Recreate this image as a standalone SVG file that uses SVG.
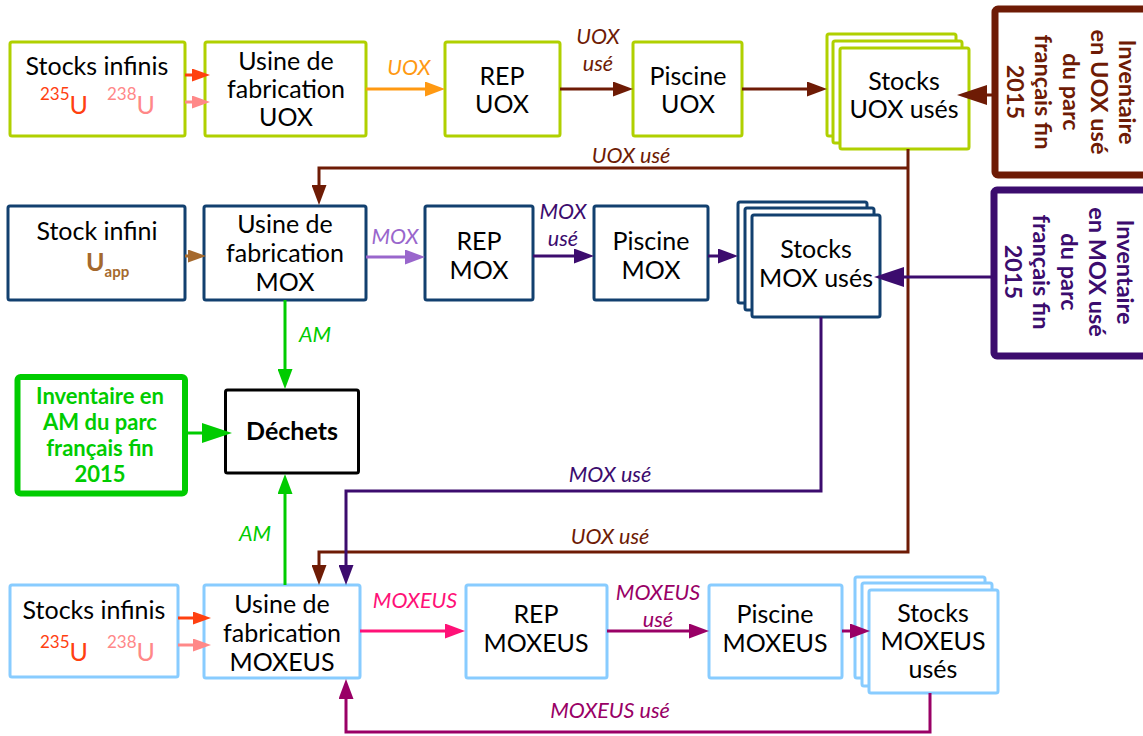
<svg xmlns="http://www.w3.org/2000/svg" width="1143" height="736" viewBox="0 0 1143 736">
<style>
text{font-family:Lato,"Liberation Sans",sans-serif;}
.t{font-size:25px;fill:#000;text-anchor:middle;dominant-baseline:central;}
.lbl{font-size:21.5px;font-style:italic;text-anchor:middle;dominant-baseline:central;}
.g{fill:#fff;stroke:#B0D000;stroke-width:3;}
.b{fill:#fff;stroke:#12406F;stroke-width:3;}
.lb{fill:#fff;stroke:#88CCFF;stroke-width:3;}
.c{fill:none;stroke-width:3;}
.inv{font-size:23.5px;font-weight:bold;text-anchor:middle;dominant-baseline:central;}
.inva{font-size:22px;font-weight:bold;text-anchor:middle;dominant-baseline:central;}
</style>
<defs>
<marker id="m-red" markerUnits="userSpaceOnUse" markerWidth="18" markerHeight="13" refX="10" refY="6.5" orient="auto"><path d="M0,0 L18,6.5 L0,13 z" fill="#FF4010"/></marker>
<marker id="m-pink" markerUnits="userSpaceOnUse" markerWidth="18" markerHeight="13" refX="10" refY="6.5" orient="auto"><path d="M0,0 L18,6.5 L0,13 z" fill="#FF8888"/></marker>
<marker id="m-tan" markerUnits="userSpaceOnUse" markerWidth="18" markerHeight="13" refX="10" refY="6.5" orient="auto"><path d="M0,0 L18,6.5 L0,13 z" fill="#A5692D"/></marker>
<marker id="m-orange" markerUnits="userSpaceOnUse" markerWidth="20" markerHeight="15" refX="12" refY="7.5" orient="auto"><path d="M0,0 L20,7.5 L0,15 z" fill="#FF9912"/></marker>
<marker id="m-brown" markerUnits="userSpaceOnUse" markerWidth="20" markerHeight="15" refX="12" refY="7.5" orient="auto"><path d="M0,0 L20,7.5 L0,15 z" fill="#6E1B05"/></marker>
<marker id="m-lav" markerUnits="userSpaceOnUse" markerWidth="20" markerHeight="15" refX="12" refY="7.5" orient="auto"><path d="M0,0 L20,7.5 L0,15 z" fill="#9966CC"/></marker>
<marker id="m-purple" markerUnits="userSpaceOnUse" markerWidth="20" markerHeight="15" refX="12" refY="7.5" orient="auto"><path d="M0,0 L20,7.5 L0,15 z" fill="#3C0C6E"/></marker>
<marker id="m-green" markerUnits="userSpaceOnUse" markerWidth="20" markerHeight="15" refX="12" refY="7.5" orient="auto"><path d="M0,0 L20,7.5 L0,15 z" fill="#00CC00"/></marker>
<marker id="m-magenta" markerUnits="userSpaceOnUse" markerWidth="20" markerHeight="15" refX="12" refY="7.5" orient="auto"><path d="M0,0 L20,7.5 L0,15 z" fill="#FF1177"/></marker>
<marker id="m-mox" markerUnits="userSpaceOnUse" markerWidth="20" markerHeight="15" refX="12" refY="7.5" orient="auto"><path d="M0,0 L20,7.5 L0,15 z" fill="#990066"/></marker>
<marker id="t-brown" markerUnits="userSpaceOnUse" markerWidth="30" markerHeight="20" refX="15" refY="10" orient="auto"><path d="M0,0 L30,10 L0,20 z" fill="#6E1B05"/></marker>
<marker id="t-purple" markerUnits="userSpaceOnUse" markerWidth="30" markerHeight="20" refX="15" refY="10" orient="auto"><path d="M0,0 L30,10 L0,20 z" fill="#3C0C6E"/></marker>
<marker id="t-green" markerUnits="userSpaceOnUse" markerWidth="30" markerHeight="20" refX="15" refY="10" orient="auto"><path d="M0,0 L30,10 L0,20 z" fill="#00CC00"/></marker>
</defs>
<rect width="1143" height="736" fill="#fff"/>

<g id="stocks-uox">
<rect class="g" x="10" y="42" width="175" height="94" rx="2"/>
<text class="t" x="97" y="65">Stocks infinis</text>
<text x="40" y="114" fill="#FF4010"><tspan font-size="17" dy="-14">235</tspan><tspan font-size="25" dy="14">U</tspan></text>
<text x="107" y="114" fill="#FF8888"><tspan font-size="17" dy="-14">238</tspan><tspan font-size="25" dy="14">U</tspan></text>
</g>
<g id="usine-uox">
<rect class="g" x="205" y="42" width="161" height="94" rx="2"/>
<text class="t" x="286" y="60">Usine de</text>
<text class="t" x="286" y="88">fabrication</text>
<text class="t" x="286" y="116">UOX</text>
</g>
<g id="rep-uox">
<rect class="g" x="445" y="42" width="115" height="94" rx="2"/>
<text class="t" x="502" y="75">REP</text>
<text class="t" x="502" y="103">UOX</text>
</g>
<g id="piscine-uox">
<rect class="g" x="633" y="42" width="109" height="94" rx="2"/>
<text class="t" x="688" y="75">Piscine</text>
<text class="t" x="688" y="103">UOX</text>
</g>
<g id="stocks-uox-uses">
<rect class="g" x="827" y="34" width="129" height="102" rx="2"/>
<rect class="g" x="833" y="41" width="129" height="102" rx="2"/>
<rect class="g" x="840" y="48" width="129" height="101" rx="2"/>
<text class="t" x="904" y="80">Stocks</text>
<text class="t" x="904" y="108">UOX usés</text>
</g>
<g id="inventaire-uox">
<rect x="995" y="9" width="200" height="166" rx="3" fill="#fff" stroke="#6E1B05" stroke-width="7"/>
<g transform="translate(1072,92) rotate(90)" fill="#6E1B05">
<text class="inv" x="0" y="-56">Inventaire</text>
<text class="inv" x="0" y="-28">en UOX usé</text>
<text class="inv" x="0" y="0">du parc</text>
<text class="inv" x="0" y="28">français fin</text>
<text class="inv" x="0" y="56">2015</text>
</g>
</g>

<g id="stock-infini-mox">
<rect class="b" x="8" y="206" width="177" height="94" rx="2"/>
<text class="t" x="97" y="230">Stock infini</text>
<text x="86" y="271" fill="#A5692D" font-weight="bold"><tspan font-size="25">U</tspan><tspan font-size="15" dy="6">app</tspan></text>
</g>
<g id="usine-mox">
<rect class="b" x="204" y="206" width="162" height="94" rx="2"/>
<text class="t" x="285" y="223">Usine de</text>
<text class="t" x="285" y="252">fabrication</text>
<text class="t" x="285" y="281">MOX</text>
</g>
<g id="rep-mox">
<rect class="b" x="425" y="206" width="108" height="94" rx="2"/>
<text class="t" x="479" y="240">REP</text>
<text class="t" x="479" y="269">MOX</text>
</g>
<g id="piscine-mox">
<rect class="b" x="594" y="206" width="114" height="94" rx="2"/>
<text class="t" x="651" y="240">Piscine</text>
<text class="t" x="651" y="269">MOX</text>
</g>
<g id="stocks-mox-uses">
<rect class="b" x="738" y="202" width="129" height="101" rx="2"/>
<rect class="b" x="745" y="208" width="129" height="102" rx="2"/>
<rect class="b" x="752" y="215" width="128" height="102" rx="2"/>
<text class="t" x="816" y="248">Stocks</text>
<text class="t" x="816" y="277">MOX usés</text>
</g>
<g id="inventaire-mox">
<rect x="994" y="190" width="200" height="166" rx="3" fill="#fff" stroke="#3C0C6E" stroke-width="7"/>
<g transform="translate(1070,272) rotate(90)" fill="#3C0C6E">
<text class="inv" x="0" y="-56">Inventaire</text>
<text class="inv" x="0" y="-28">en MOX usé</text>
<text class="inv" x="0" y="0">du parc</text>
<text class="inv" x="0" y="28">français fin</text>
<text class="inv" x="0" y="56">2015</text>
</g>
</g>

<g id="dechets">
<rect x="225.5" y="390" width="133" height="83" rx="2" fill="#fff" stroke="#000" stroke-width="3"/>
<text class="t" x="292" y="430" font-weight="bold" font-size="28">Déchets</text>
</g>
<g id="inventaire-am">
<rect x="17.5" y="377" width="167.5" height="116.5" rx="3" fill="#fff" stroke="#00CC00" stroke-width="6"/>
<g fill="#00CC00">
<text class="inva" x="100" y="395">Inventaire en</text>
<text class="inva" x="100" y="421">AM du parc</text>
<text class="inva" x="100" y="447">français fin</text>
<text class="inva" x="100" y="473">2015</text>
</g>
</g>

<g id="stocks-moxeus">
<rect class="lb" x="10" y="585" width="168" height="92" rx="2"/>
<text class="t" x="94" y="609">Stocks infinis</text>
<text x="40" y="661" fill="#FF4010"><tspan font-size="17" dy="-13">235</tspan><tspan font-size="25" dy="13">U</tspan></text>
<text x="107" y="661" fill="#FF8888"><tspan font-size="17" dy="-13">238</tspan><tspan font-size="25" dy="13">U</tspan></text>
</g>
<g id="usine-moxeus">
<rect class="lb" x="204" y="585" width="156" height="93" rx="2"/>
<text class="t" x="282" y="603">Usine de</text>
<text class="t" x="282" y="632">fabrication</text>
<text class="t" x="282" y="661">MOXEUS</text>
</g>
<g id="rep-moxeus">
<rect class="lb" x="466" y="585" width="141" height="93" rx="2"/>
<text class="t" x="536" y="613">REP</text>
<text class="t" x="536" y="642">MOXEUS</text>
</g>
<g id="piscine-moxeus">
<rect class="lb" x="709" y="585" width="133" height="93" rx="2"/>
<text class="t" x="775" y="613">Piscine</text>
<text class="t" x="775" y="642">MOXEUS</text>
</g>
<g id="stocks-moxeus-uses">
<rect class="lb" x="855" y="577" width="130" height="101" rx="2"/>
<rect class="lb" x="862" y="583" width="130" height="103" rx="2"/>
<rect class="lb" x="869" y="590" width="129" height="103" rx="2"/>
<text class="t" x="933" y="612">Stocks</text>
<text class="t" x="933" y="640">MOXEUS</text>
<text class="t" x="933" y="668">usés</text>
</g>

<g id="connectors">
<path class="c" stroke="#FF4010" d="M185,75 H202" marker-end="url(#m-red)"/>
<path class="c" stroke="#FF8888" d="M185,102 H202" marker-end="url(#m-pink)"/>
<path class="c" stroke="#FF9912" d="M366,89 H437" marker-end="url(#m-orange)"/>
<path class="c" stroke="#6E1B05" d="M560,89 H625" marker-end="url(#m-brown)"/>
<path class="c" stroke="#6E1B05" d="M742,89 H819" marker-end="url(#m-brown)"/>
<path class="c" stroke="#6E1B05" stroke-width="6" d="M994,95 H972" marker-end="url(#t-brown)"/>
<path class="c" stroke="#6E1B05" d="M908,168 H319 V197" marker-end="url(#m-brown)"/>
<path class="c" stroke="#6E1B05" d="M908,149 V552 H319 V577" marker-end="url(#m-brown)"/>
<path class="c" stroke="#A5692D" d="M185,256 H198" marker-end="url(#m-tan)"/>
<path class="c" stroke="#9966CC" d="M366,257 H417" marker-end="url(#m-lav)"/>
<path class="c" stroke="#3C0C6E" d="M533,256 H586" marker-end="url(#m-purple)"/>
<path class="c" stroke="#3C0C6E" d="M708,256 H730" marker-end="url(#m-purple)"/>
<path class="c" stroke="#3C0C6E" stroke-width="7" d="M992,277 H889" marker-end="url(#t-purple)"/>
<path class="c" stroke="#3C0C6E" d="M821,317 V491 H346 V577" marker-end="url(#m-purple)"/>
<path class="c" stroke="#00CC00" d="M285,300 V381" marker-end="url(#m-green)"/>
<path class="c" stroke="#00CC00" d="M285,585 V482" marker-end="url(#m-green)"/>
<path class="c" stroke="#00CC00" stroke-width="7" d="M186,433 H217" marker-end="url(#t-green)"/>
<path class="c" stroke="#FF4010" d="M178,618 H203" marker-end="url(#m-red)"/>
<path class="c" stroke="#FF8888" d="M178,645 H203" marker-end="url(#m-pink)"/>
<path class="c" stroke="#FF1177" d="M360,631 H457" marker-end="url(#m-magenta)"/>
<path class="c" stroke="#990066" d="M607,631 H701" marker-end="url(#m-mox)"/>
<path class="c" stroke="#990066" d="M842,631 H862" marker-end="url(#m-mox)"/>
<path class="c" stroke="#990066" d="M930,693 V732 H346 V687" marker-end="url(#m-mox)"/>

<text class="lbl" x="409" y="67" fill="#FF9912">UOX</text>
<text class="lbl" x="598" y="36" fill="#6E1B05">UOX</text>
<text class="lbl" x="598" y="63" fill="#6E1B05">usé</text>
<text class="lbl" x="631" y="155" fill="#6E1B05">UOX usé</text>
<text class="lbl" x="395" y="236" fill="#9966CC">MOX</text>
<text class="lbl" x="563" y="211" fill="#3C0C6E">MOX</text>
<text class="lbl" x="563" y="238" fill="#3C0C6E">usé</text>
<text class="lbl" x="315" y="334" fill="#00CC00">AM</text>
<text class="lbl" x="255" y="533" fill="#00CC00">AM</text>
<text class="lbl" x="610" y="474" fill="#3C0C6E">MOX usé</text>
<text class="lbl" x="610" y="536" fill="#6E1B05">UOX usé</text>
<text class="lbl" x="415" y="600" fill="#FF1177">MOXEUS</text>
<text class="lbl" x="658" y="592" fill="#990066">MOXEUS</text>
<text class="lbl" x="658" y="619" fill="#990066">usé</text>
<text class="lbl" x="610" y="710" fill="#990066">MOXEUS usé</text>
</g>
</svg>
